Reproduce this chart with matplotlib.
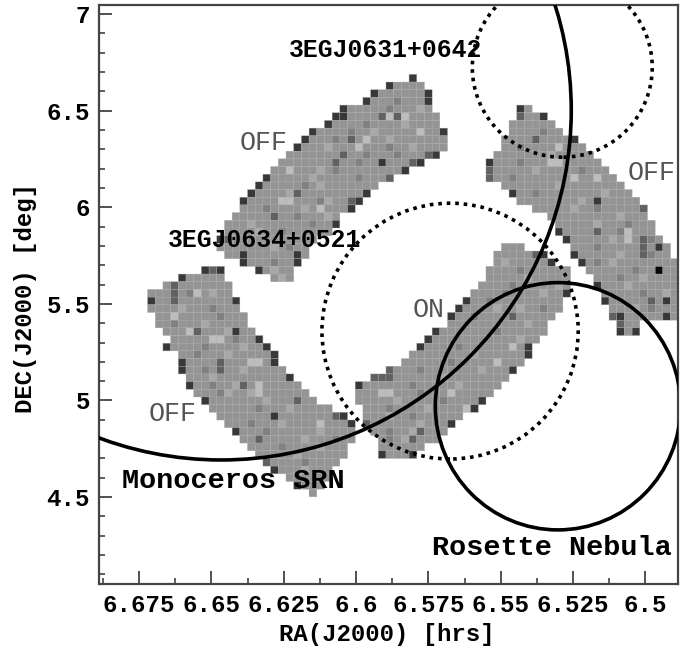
import numpy as np
import matplotlib
matplotlib.use("Agg")
import matplotlib.pyplot as plt
from matplotlib.patches import Ellipse
from matplotlib.ticker import FixedLocator, FixedFormatter

plt.rcParams['font.family'] = ['Liberation Mono', 'DejaVu Sans Mono']

# sky grid
RA0, DEC0 = 6.6774, 6.688
D_RA, D_DEC = 0.002659, 0.03976
N_ROWS, N_COLS = 55, 71

# (row, first col, last col)
OFF_UPPER = [(0,36,36),(1,33,37),(2,31,38),(3,30,38),(4,27,38),(5,26,39),(6,25,39),(7,23,40),(8,22,40),
             (9,21,40),(10,20,39),(11,19,37),(12,18,35),(13,17,33),(14,16,31),(15,15,30),(16,14,29),
             (17,14,28),(18,13,26),(19,12,26),(20,12,25),(21,11,23),(22,11,22),(23,12,22),(24,14,21),
             (25,16,20),(26,18,20)]
OFF_LOWER = [(25,9,11),(26,6,11),(27,4,12),(28,2,12),(29,2,13),(30,2,13),(31,3,14),(32,3,14),(33,4,15),
             (34,5,16),(35,4,17),(36,6,18),(37,6,18),(38,6,19),(39,7,20),(40,7,21),(41,8,22),(42,9,23),
             (43,10,25),(44,11,27),(45,12,28),(46,13,28),(47,14,28),(48,15,27),(49,16,27),(50,17,26),
             (51,18,25),(52,20,25),(53,21,24),(54,23,23)]
ON_REGION = [(22,48,50),(23,47,53),(24,47,54),(25,46,56),(26,46,56),(27,45,56),(28,44,56),(29,43,55),
             (30,42,55),(31,41,54),(32,41,53),(33,39,53),(34,38,52),(35,37,51),(36,36,51),(37,35,50),
             (38,33,49),(39,31,48),(40,29,47),(41,29,46),(42,29,45),(43,30,44),(44,30,42),(45,30,41),
             (46,31,40),(47,32,39),(48,32,37),(49,32,36)]
OFF_RIGHT = [(4,50,51),(5,50,53),(6,49,54),(7,49,55),(8,48,57),(9,48,58),(10,47,59),(11,46,60),(12,46,61),
             (13,46,62),(14,48,63),(15,49,64),(16,50,65),(17,52,66),(18,54,66),(19,55,67),(20,55,67),
             (21,56,68),(22,57,69),(23,57,69),(24,58,70),(25,59,70),(26,60,70),(27,60,70),(28,61,70),
             (29,61,70),(30,62,70),(31,62,70),(32,63,65),(33,63,65)]

BASE_LEVEL = 0.58
DARK_CELLS = [(0,36),(1,33),(2,31),(2,38),(3,30),(3,38),(4,27),(5,26),(5,27),(6,25),(7,23),(7,40),(8,22),(9,21),
              (10,39),(11,32),(11,37),(12,35),(13,17),(14,16),(15,15),(15,30),(16,14),(16,29),(17,28),(19,26),
              (21,11),(23,14),(23,21),(24,14),(24,21),(25,16),
              (25,9),(25,11),(26,6),(29,2),(29,13),(33,13),(34,16),(35,4),(35,17),(36,18),(37,18),(37,6),(38,6),
              (39,20),(40,7),(42,9),(44,18),(44,27),(45,28),(46,13),(51,18),(53,21),
              (24,54),(28,56),(29,43),(30,42),(31,41),(33,39),(34,38),(35,37),(35,51),(36,51),(38,49),(40,29),
              (42,45),(43,44),(45,41),(49,32),(49,36),(23,53),
              (4,50),(5,53),(8,57),(11,46),(15,49),(16,60),(20,55),(21,56),(22,68),(23,57),(24,58),(27,60),
              (29,61),(29,69),(31,63),(31,69),(33,63),(33,65)]
BLACK_CELLS = [(25,68)]
MID_CELLS = [(5,32),(5,34),(8,28),(10,27),(10,38),(11,26),(11,36),(13,33),(15,21),(16,28),(18,18),(21,12),
             (25,10),(27,5),(28,5),(29,5),(33,8),(37,11),(38,11),(40,14),(42,21),(44,26),(47,16),(50,17),
             (38,33),(39,31),(39,32),(39,33),(45,30),(46,37),(47,36),(23,52),(31,49),
             (5,50),(8,52),(17,66),(20,60),(21,66),(22,66),(23,66),(29,67),(31,62),(32,63),(13,46),(12,46)]
LIGHT_CELLS = [(5,33),(5,35),(7,37),(8,30),(9,29),(12,20),(16,19),(16,20),(17,24),
               (28,8),(31,5),(33,7),(34,10),(34,11),(37,15),(37,16),(41,16),(40,16),(45,24),
               (41,32),(41,33),(44,43),(44,44),(43,43),(35,49),(37,47),(41,41),(11,54),(11,55),(9,55),(20,64),
               (21,64),(22,55),(13,57),(13,60)]
SOFT_LIGHT_CELLS = [(7,31),(8,33),(9,36),(12,24),(13,23),(14,24),(15,20),(16,25),(17,22),(18,25),(19,15),(20,16),
                    (22,18),(25,18),(26,19),(9,25),(6,35),(4,37),
                    (28,10),(30,6),(32,9),(33,12),(35,14),(36,12),(38,14),(39,10),(40,13),(42,17),(43,20),(45,19),
                    (46,24),(47,22),(48,24),(49,21),(51,22),(41,12),(41,15),
                    (24,48),(26,51),(28,53),(30,47),(32,51),(34,50),(36,44),(38,45),(39,40),(40,42),(42,34),(43,38),
                    (44,33),(45,37),(46,36),(47,35),(30,50),(27,55),
                    (10,54),(12,52),(14,55),(16,58),(17,57),(18,63),(19,60),(21,62),(23,63),(26,66),(27,64),(28,69),
                    (30,65),(24,62),(15,61)]
SOFT_DARK_CELLS = [(4,33),(6,30),(8,26),(10,30),(10,34),(11,29),(12,26),(13,29),(14,22),(16,24),(18,21),(19,23),
                   (22,20),(3,34),(7,28),(9,33),(17,17),(20,19),(24,18),
                   (28,7),(30,10),(32,5),(34,13),(36,8),(38,9),(40,10),(41,11),(43,16),(45,15),(46,17),(47,26),
                   (48,19),(50,22),(31,11),(35,9),
                   (25,50),(27,49),(29,46),(31,44),(33,47),(35,42),(37,41),(38,37),(40,36),(41,37),(42,40),(43,33),
                   (44,36),(46,33),(47,33),(28,48),(30,53),
                   (7,53),(9,50),(11,50),(13,49),(15,52),(17,60),(19,64),(20,63),(22,60),(24,60),(25,65),(26,63),
                   (28,66),(30,67),(12,58),(21,67),(23,67)]
DARK_LEVEL, MID_LEVEL, LIGHT_LEVEL, BLACK_LEVEL = 0.22, 0.38, 0.74, 0.03
SOFT_LIGHT_LEVEL, SOFT_DARK_LEVEL = 0.66, 0.50

# catalogue circles: RA [hrs], DEC [deg], radius in RA, radius in DEC
DOTTED_CIRCLES = [(6.5287, 6.724, 0.0311, 0.465), (6.5675, 5.359, 0.0443, 0.662)]
SOLID_CIRCLES = [(6.5302, 4.970, 0.0424, 0.640), (6.6466, 6.502, 0.1210, 1.810)]

X_MAJOR = [6.675, 6.65, 6.625, 6.6, 6.575, 6.55, 6.525, 6.5]
X_LABELS = ['6.675', '6.65', '6.625', '6.6', '6.575', '6.55', '6.525', '6.5']
X_MINOR = [6.6875, 6.6625, 6.6375, 6.6125, 6.5875, 6.5625, 6.5375, 6.5125, 6.4875]
Y_MAJOR = [4.5, 5, 5.5, 6, 6.5, 7]
Y_LABELS = ['4.5', '5', '5.5', '6', '6.5', '7']
Y_MINOR = [4.1, 4.2, 4.3, 4.4, 4.6, 4.7, 4.8, 4.9, 5.1, 5.2, 5.3, 5.4, 5.6, 5.7, 5.8, 5.9,
           6.1, 6.2, 6.3, 6.4, 6.6, 6.7, 6.8, 6.9]

W, H = 695, 648
fig = plt.figure(figsize=(W/100, H/100), dpi=100, facecolor='white')
ax = fig.add_axes([99.5/W, 1-584/H, (678-99.5)/W, (584-5)/H])
ax.set_xlim(6.6887, 6.4887)
ax.set_ylim(4.05, 7.047)

grid = np.full((N_ROWS, N_COLS), np.nan)
for region in (OFF_UPPER, OFF_LOWER, ON_REGION, OFF_RIGHT):
    for r, a, b in region:
        grid[r, a:b+1] = BASE_LEVEL
for cells, lev in ((SOFT_DARK_CELLS, SOFT_DARK_LEVEL), (SOFT_LIGHT_CELLS, SOFT_LIGHT_LEVEL),
                   (MID_CELLS, MID_LEVEL), (LIGHT_CELLS, LIGHT_LEVEL),
                   (DARK_CELLS, DARK_LEVEL), (BLACK_CELLS, BLACK_LEVEL)):
    for r, c in cells:
        if not np.isnan(grid[r, c]):
            grid[r, c] = lev
ra_edges = RA0 - D_RA*np.arange(N_COLS+1)
dec_edges = DEC0 - D_DEC*np.arange(N_ROWS+1)
ax.pcolor(ra_edges, dec_edges, np.ma.masked_invalid(grid), cmap='gray', vmin=0, vmax=1,
          edgecolors='#a8a8a8', linewidth=0.25, zorder=1)

for ra, dec, rr, rd in DOTTED_CIRCLES:
    ax.add_patch(Ellipse((ra, dec), 2*rr, 2*rd, fill=False, ec='black', lw=2.6, ls=(0, (1, 1.35)), zorder=3))
for ra, dec, rr, rd in SOLID_CIRCLES:
    ax.add_patch(Ellipse((ra, dec), 2*rr, 2*rd, fill=False, ec='black', lw=2.6, zorder=3))

ax.xaxis.set_major_locator(FixedLocator(X_MAJOR))
ax.xaxis.set_major_formatter(FixedFormatter(X_LABELS))
ax.xaxis.set_minor_locator(FixedLocator(X_MINOR))
ax.yaxis.set_major_locator(FixedLocator(Y_MAJOR))
ax.yaxis.set_major_formatter(FixedFormatter(Y_LABELS))
ax.yaxis.set_minor_locator(FixedLocator(Y_MINOR))
ax.tick_params(which='major', direction='in', length=9.5, width=1.2, color='#333333', labelsize=17.4, pad=7)
ax.tick_params(which='minor', direction='in', length=4.5, width=1.1, color='#333333')
for lab in ax.get_xticklabels() + ax.get_yticklabels():
    lab.set_fontweight('bold')
for s in ax.spines.values():
    s.set_linewidth(1.6)
    s.set_color('#444444')

def label(px, py, s, color='black', size=20.5, weight='normal'):
    fig.text(px/W, 1-py/H, s, color=color, fontsize=size, ha='left', va='center', fontweight=weight, zorder=5)

label(289, 50, '3EGJ0631+0642', size=17.8, weight='bold')
label(168, 240, '3EGJ0634+0521', size=17.8, weight='bold')
label(240, 143, 'OFF', color='#555555', size=19.3)
label(628, 173, 'OFF', color='#555555', size=19.3)
label(149, 414, 'OFF', color='#555555', size=19.3)
label(413, 310, 'ON', color='#555555', size=19.3)
label(122, 481, 'Monoceros SRN', weight='bold')
label(432, 548, 'Rosette Nebula', weight='bold')

fig.text(387/W, 1-634/H, 'RA(J2000) [hrs]', fontsize=17.3, fontweight='bold', ha='center', va='center')
fig.text(26/W, 1-298/H, 'DEC(J2000) [deg]', fontsize=17.3, fontweight='bold', rotation=90, ha='center', va='center')

fig.savefig('out.png', dpi=100)
